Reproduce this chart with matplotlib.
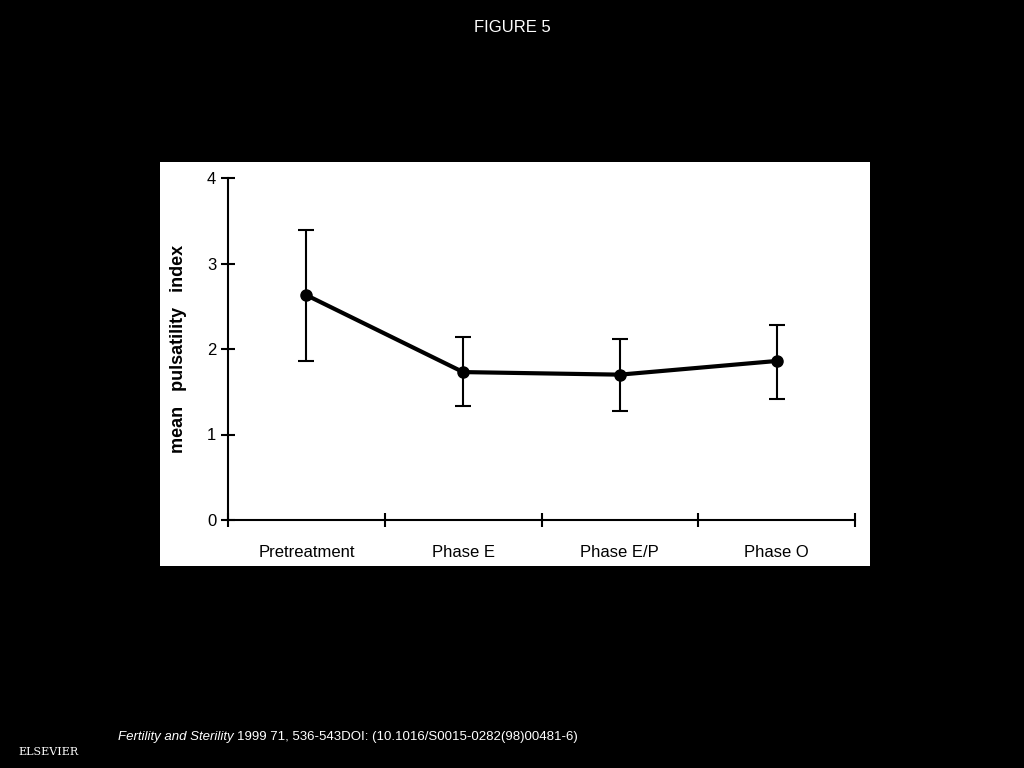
import matplotlib
matplotlib.use("Agg")
import matplotlib.pyplot as plt

plt.rcParams["font.family"] = "Liberation Sans"

categories = ["Pretreatment", "Phase E", "Phase E/P", "Phase O"]
means = [2.63, 1.73, 1.70, 1.86]
upper = [3.39, 2.14, 2.12, 2.28]
lower = [1.86, 1.33, 1.27, 1.42]
yticks = [0, 1, 2, 3, 4]

fig = plt.figure(figsize=(10.24, 7.68), dpi=100, facecolor="black")
bg = fig.add_axes([160/1024, 1-566/768, 710/1024, 404/768], zorder=-1)
bg.set_facecolor("white")
bg.set_xticks([]); bg.set_yticks([])
for s in bg.spines.values():
    s.set_visible(False)

ax = fig.add_axes([228/1024, 1-520/768, 627/1024, 342/768], zorder=1)
ax.set_facecolor("none")
x = [0.5, 1.5, 2.5, 3.5]
err = [[m - l for m, l in zip(means, lower)], [u - m for u, m in zip(upper, means)]]
ax.errorbar(x, means, yerr=err, color="black", lw=3, marker="o", ms=8,
            elinewidth=1.5, capsize=6, capthick=1.5, clip_on=False)
ax.set_xlim(0, 4)
ax.set_ylim(0, 4)
ax.set_yticks(yticks)
ax.set_xticks([0, 1, 2, 3, 4])
ax.set_xticklabels([])
ax.set_xticks(x, minor=True)
ax.set_xticklabels(categories, minor=True, fontsize=12)
ax.tick_params(axis="x", which="minor", length=0, pad=18)
ax.tick_params(axis="x", which="major", direction="inout", length=10, width=1.5)
ax.tick_params(axis="y", direction="inout", length=10, width=1.5, labelsize=12)
for s in ["top", "right"]:
    ax.spines[s].set_visible(False)
for s in ["left", "bottom"]:
    ax.spines[s].set_linewidth(1.5)
ax.set_ylabel("mean   pulsatility   index", fontsize=13, fontweight="bold", labelpad=14)

fig.text(0.5, 1-27/768, "FIGURE 5", color="white", ha="center", va="center", fontsize=12)
t1 = fig.text(118/1024, 1-737/768, "Fertility and Sterility", color="white", fontsize=9.5, style="italic", va="center")
fig.canvas.draw()
bb = t1.get_window_extent()
fig.text(bb.x1/1024 + 0.003, 1-737/768, "1999 71, 536-543DOI: (10.1016/S0015-0282(98)00481-6)", color="white", fontsize=9.5, va="center")
fig.text(48/1024, 1-752/768, "ELSEVIER", color="white", fontsize=8, ha="center", va="center", family="serif")
fig.savefig("out.png", dpi=100, facecolor="black")
